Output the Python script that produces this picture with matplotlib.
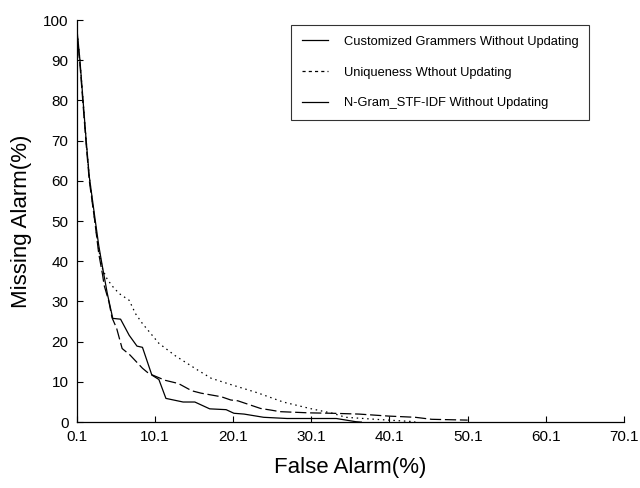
import numpy as np
import matplotlib.pyplot as plt
from matplotlib.lines import Line2D

plt.rcParams['font.family'] = ['Liberation Sans Narrow', 'Liberation Sans', 'DejaVu Sans']

# Customized Grammers (long dashes in the plot)
cg_x = [0.1, 0.5, 0.9, 1.3, 1.7, 2.4, 2.9, 3.4, 3.6, 4.2, 4.6, 5.2, 5.9, 6.9, 8.5, 9.3,
        11.4, 13.1, 14.8, 16.0, 18.6, 19.8, 20.7, 23.6, 24.9, 26.1, 29.9, 32.8, 36.2,
        40.0, 43.4, 45.5, 50.1]
cg_y = [97, 89, 79, 69, 60, 50, 42, 36.6, 34, 30, 26, 23.3, 18.3, 16.7, 13.4, 12.1,
        10.4, 9.6, 7.8, 7.2, 6.3, 5.5, 5.3, 3.4, 3.0, 2.6, 2.3, 2.2, 2.0,
        1.5, 1.2, 0.7, 0.5]

# Uniqueness (dotted)
un_x = [0.1, 0.5, 0.9, 1.3, 1.7, 2.4, 2.9, 3.4, 4.0, 4.7, 5.5, 6.8, 7.6, 8.5, 10.6,
        12.7, 15.6, 17.3, 19.7, 23.2, 26.5, 29.9, 32.8, 34.5, 38.3, 40.0, 43.4]
un_y = [98, 90, 80, 70, 61, 50, 43, 38, 35.5, 33.7, 32, 30.3, 27, 24.5, 19.6,
        16.5, 12.9, 10.9, 9.4, 7.3, 5.0, 3.4, 2.2, 1.2, 0.7, 0.5, 0.1]

# N-Gram STF-IDF (solid)
ng_x = [0.1, 0.5, 0.9, 1.3, 1.7, 2.4, 2.9, 3.3, 4.0, 4.7, 5.7, 6.8, 7.8, 8.5, 9.7, 10.6,
        11.5, 13.7, 15.2, 17.1, 19.2, 20.2, 21.5, 24.0, 27.0, 33.3, 35.8, 36.5]
ng_y = [98, 90, 80, 70, 61, 51, 44, 39.5, 32, 25.8, 25.6, 21.6, 18.9, 18.6, 11.7, 10.6,
        5.9, 5.0, 5.0, 3.3, 3.1, 2.2, 2.0, 1.2, 0.9, 0.9, 0.1, 0.0]

labels = ['Customized Grammers Without Updating',
          'Uniqueness Wthout Updating',
          'N-Gram_STF-IDF Without Updating']

x_ticks = [0.1, 10.1, 20.1, 30.1, 40.1, 50.1, 60.1, 70.1]
y_ticks = list(range(0, 101, 10))

fig = plt.figure(figsize=(6.4, 4.88), dpi=100)
ax = fig.add_axes([0.120, 0.135, 0.855, 0.824])

ax.plot(cg_x, cg_y, color='black', lw=0.9, dashes=(9, 3))
ax.plot(un_x, un_y, color='black', lw=0.9, dashes=(1.2, 3))
ax.plot(ng_x, ng_y, color='black', lw=0.9)

ax.set_xlim(0.1, 70.1)
ax.set_ylim(0, 100)
ax.set_xticks(x_ticks)
ax.set_xticklabels([str(t) for t in x_ticks])
ax.set_yticks(y_ticks)
ax.tick_params(direction='in', length=4, width=0.8, labelsize=11, pad=6)
for s in ['top', 'right']:
    ax.spines[s].set_visible(False)
for s in ['left', 'bottom']:
    ax.spines[s].set_linewidth(0.9)

ax.set_xlabel('False Alarm(%)', fontsize=16, labelpad=9)
ax.set_ylabel('Missing Alarm(%)', fontsize=16, labelpad=8)

handles = [Line2D([], [], color='black', lw=0.9),
           Line2D([], [], color='black', lw=0.9, dashes=(2.5, 2.5)),
           Line2D([], [], color='black', lw=0.9)]
leg = ax.legend(handles, labels, loc='upper left', bbox_to_anchor=(0.392, 0.988),
                borderaxespad=0, fontsize=9.3, frameon=True, fancybox=False,
                edgecolor='black', handlelength=2.0, labelspacing=1.45, borderpad=0.85,
                handletextpad=1.2)
leg.get_frame().set_linewidth(0.8)

fig.savefig('out.png', dpi=100)
